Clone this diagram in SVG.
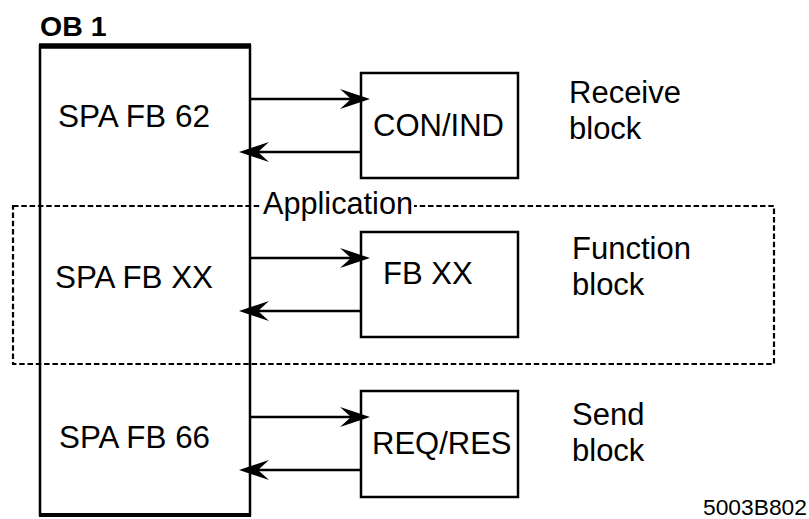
<svg xmlns="http://www.w3.org/2000/svg" width="809" height="519" viewBox="0 0 809 519">
<style>
text{font-family:"Liberation Sans",Arial,sans-serif;font-size:31px;fill:#000}
.box{fill:#fff;stroke:#000;stroke-width:2.5}
.ln{stroke:#000;stroke-width:2.5;fill:none}
.dash{fill:none;stroke:#000;stroke-width:2.2;stroke-dasharray:5.5 2.8}
.bold{font-weight:bold;font-size:28.5px}
.small{font-size:22.8px}
</style>
<defs>
<marker id="arr" markerUnits="userSpaceOnUse" viewBox="-32 -11 32 22" refX="-10" refY="0" markerWidth="32" markerHeight="22" orient="auto">
<path d="M0,0 L-30,-10 L-19,0 L-30,10 Z" fill="#000"/>
</marker>
</defs>
<rect width="809" height="519" fill="#fff"/>
<g id="ob1">
<rect x="40" y="46" width="210" height="469" fill="#fff" stroke="#000" stroke-width="2.5"/>
<line x1="39" y1="46" x2="251" y2="46" stroke="#000" stroke-width="5.5"/>
<line x1="39" y1="515" x2="251" y2="515" stroke="#000" stroke-width="4"/>
<text class="bold" x="40" y="36">OB 1</text>
<text x="58" y="127" textLength="152" lengthAdjust="spacingAndGlyphs">SPA FB 62</text>
<text x="55" y="288" textLength="158" lengthAdjust="spacingAndGlyphs">SPA FB XX</text>
<text x="59" y="448" textLength="151" lengthAdjust="spacingAndGlyphs">SPA FB 66</text>
</g>
<g id="application">
<rect class="dash" x="13" y="206" width="761" height="158"/>
<rect x="261" y="196" width="153" height="18" fill="#fff"/>
<text x="263" y="214" textLength="150" lengthAdjust="spacingAndGlyphs">Application</text>
</g>
<g id="conind">
<rect class="box" x="361" y="73" width="157" height="105"/>
<text x="373" y="136" textLength="131" lengthAdjust="spacingAndGlyphs">CON/IND</text>
</g>
<g id="fbxx">
<rect class="box" x="361" y="232" width="157" height="105"/>
<text x="383" y="284">FB XX</text>
</g>
<g id="reqres">
<rect class="box" x="361" y="391" width="157" height="106"/>
<text x="372" y="454">REQ/RES</text>
</g>
<g id="labels">
<text x="569" y="103">Receive</text>
<text x="569" y="139">block</text>
<text x="572" y="259">Function</text>
<text x="572" y="295">block</text>
<text x="572" y="425">Send</text>
<text x="572" y="461">block</text>
<text class="small" x="703" y="515">5003B802</text>
</g>
<g id="connectors">
<line class="ln" x1="250" y1="99" x2="360" y2="99" marker-end="url(#arr)"/>
<line class="ln" x1="361" y1="152" x2="249" y2="152" marker-end="url(#arr)"/>
<line class="ln" x1="250" y1="258" x2="360" y2="258" marker-end="url(#arr)"/>
<line class="ln" x1="361" y1="311" x2="249" y2="311" marker-end="url(#arr)"/>
<line class="ln" x1="250" y1="417" x2="360" y2="417" marker-end="url(#arr)"/>
<line class="ln" x1="361" y1="470" x2="249" y2="470" marker-end="url(#arr)"/>
</g>
</svg>
